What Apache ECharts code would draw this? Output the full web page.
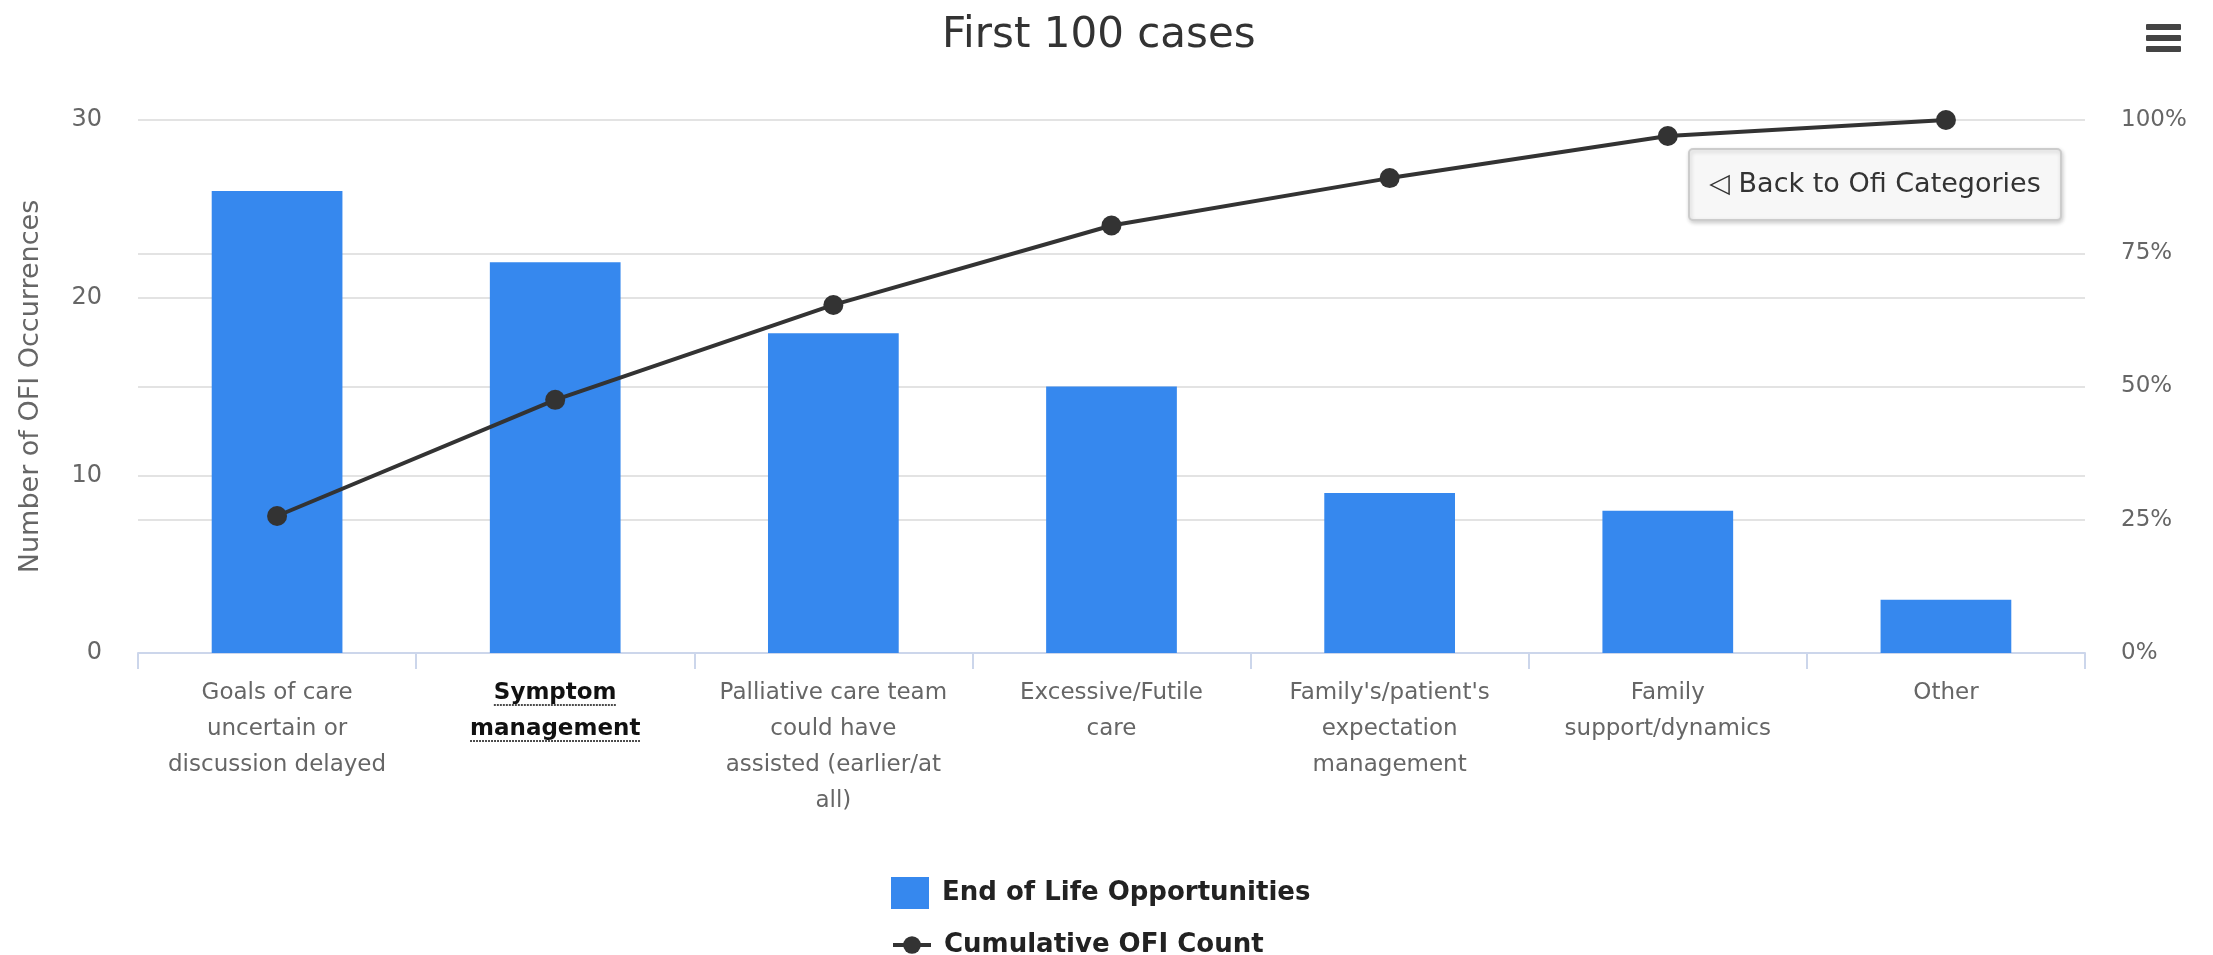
<!DOCTYPE html>
<html>
<head>
<meta charset="utf-8">
<script src="https://cdn.jsdelivr.net/npm/echarts@6/dist/echarts.min.js"></script>
<style>
  html, body { margin: 0; padding: 0; background: #ffffff; }
  #chart { width: 2213px; height: 955px; }
</style>
</head>
<body>
<div id="chart"></div>
<script>
// Opportunity-for-improvement categories (wrapped as they appear under the axis)
const categories = [
  'Goals of care\nuncertain or\ndiscussion delayed',
  'Symptom\nmanagement',
  'Palliative care team\ncould have\nassisted (earlier/at\nall)',
  'Excessive/Futile\ncare',
  "Family's/patient's\nexpectation\nmanagement",
  'Family\nsupport/dynamics',
  'Other'
];
// Number of OFI occurrences per category
const occurrences = [26, 22, 18, 15, 9, 8, 3];
// Cumulative share of all occurrences, in percent
const cumulativePct = [25.7, 47.5, 65.3, 80.2, 89.1, 97.0, 100];
// Category that can be drilled into (bold, underlined label)
const drillCategory = 'Symptom\nmanagement';

const seriesNames = ['End of Life Opportunities', 'Cumulative OFI Count'];
const titleText = 'First 100 cases';
const FONT = 'DejaVu Sans';

const chart = echarts.init(document.getElementById('chart'), null, { renderer: 'canvas' });

const measure = document.createElement('canvas').getContext('2d');
function textWidth(str, font) {
  measure.font = font;
  return measure.measureText(str).width;
}

const TITLE_SIZE = 42;
const titleCenterX = 1094;
const titleLeft = Math.round(titleCenterX - textWidth(titleText, TITLE_SIZE + 'px "DejaVu Sans"') / 2);

const LABEL_SIZE = 23;
const LABEL_LH = 36;
const LABEL_MARGIN = 22;

const option = {
  backgroundColor: '#ffffff',
  animation: false,
  textStyle: { fontFamily: FONT },
  title: {
    text: titleText,
    left: titleLeft,
    top: 10,
    textStyle: { fontFamily: FONT, fontSize: TITLE_SIZE, fontWeight: 'normal', color: '#333333' }
  },
  grid: { left: 138, right: 128, top: 120, bottom: 302, containLabel: false },
  legend: [
    {
      data: [seriesNames[0]],
      orient: 'vertical',
      left: 886,
      top: 872,
      itemWidth: 38,
      itemHeight: 32,
      icon: 'rect',
      textStyle: { fontFamily: FONT, fontSize: 26, fontWeight: 'bold', color: '#222222', padding: [0, 0, 0, 8] }
    },
    {
      data: [seriesNames[1]],
      orient: 'vertical',
      left: 886,
      top: 927,
      itemWidth: 38,
      itemHeight: 22,
      lineStyle: { width: 4 },
      textStyle: { fontFamily: FONT, fontSize: 26, fontWeight: 'bold', color: '#222222', padding: [0, 0, 0, 8] }
    }
  ],
  xAxis: {
    type: 'category',
    data: categories,
    boundaryGap: true,
    axisLine: { show: true, lineStyle: { color: '#ccd6eb', width: 2 } },
    axisTick: { show: true, alignWithLabel: false, length: 16, lineStyle: { color: '#ccd6eb', width: 2 } },
    splitLine: { show: false },
    axisLabel: {
      interval: 0,
      margin: LABEL_MARGIN,
      fontFamily: FONT,
      fontSize: LABEL_SIZE,
      lineHeight: LABEL_LH,
      color: '#666666',
      align: 'center',
      formatter: function (value) {
        if (value === drillCategory) {
          return value.split('\n').map(function (s) { return '{drill|' + s + '}'; }).join('\n');
        }
        return value;
      },
      rich: {
        drill: { fontFamily: FONT, fontSize: LABEL_SIZE, fontWeight: 'bold', color: '#111111', lineHeight: LABEL_LH }
      }
    }
  },
  yAxis: [
    {
      type: 'value',
      min: 0,
      max: 30,
      interval: 10,
      name: 'Number of OFI Occurrences',
      nameLocation: 'middle',
      nameRotate: 90,
      nameGap: 94,
      nameTextStyle: { fontFamily: FONT, fontSize: 27, color: '#666666' },
      axisLine: { show: false },
      axisTick: { show: false },
      axisLabel: { margin: 36, fontFamily: FONT, fontSize: 24, color: '#666666' },
      splitLine: { show: true, lineStyle: { color: '#e3e3e3', width: 2 } }
    },
    {
      type: 'value',
      min: 0,
      max: 100,
      interval: 25,
      position: 'right',
      axisLine: { show: false },
      axisTick: { show: false },
      axisLabel: { margin: 36, fontFamily: FONT, fontSize: 23, color: '#666666', formatter: '{value}%' },
      splitLine: { show: true, lineStyle: { color: '#e3e3e3', width: 2 } }
    }
  ],
  series: [
    {
      name: seriesNames[0],
      type: 'bar',
      yAxisIndex: 0,
      data: occurrences,
      barWidth: '47%',
      itemStyle: { color: '#3688ee' },
      z: 2
    },
    {
      name: seriesNames[1],
      type: 'line',
      yAxisIndex: 1,
      data: cumulativePct,
      symbol: 'circle',
      symbolSize: 20,
      lineStyle: { color: '#333333', width: 4 },
      itemStyle: { color: '#333333' },
      z: 5
    }
  ],
  graphic: [
    // Drill-up button
    {
      type: 'group',
      left: 1688,
      top: 148,
      z: 100,
      children: [
        {
          type: 'rect',
          shape: { x: 0, y: 0, width: 372, height: 71, r: 4 },
          style: {
            fill: '#f7f7f7', stroke: '#cccccc', lineWidth: 2,
            shadowBlur: 4, shadowOffsetX: 1, shadowOffsetY: 2, shadowColor: 'rgba(0,0,0,0.18)'
          }
        },
        {
          type: 'text',
          x: 186,
          y: 36,
          style: {
            text: '\u25C1 Back to Ofi Categories',
            fill: '#333333',
            font: '27px "DejaVu Sans"',
            align: 'center',
            verticalAlign: 'middle'
          }
        }
      ]
    },
    // Context menu (hamburger) icon
    {
      type: 'group',
      left: 2146,
      top: 24,
      z: 100,
      children: [
        { type: 'rect', shape: { x: 0, y: 0, width: 35, height: 6, r: 1 }, style: { fill: '#444444' } },
        { type: 'rect', shape: { x: 0, y: 11, width: 35, height: 6, r: 1 }, style: { fill: '#444444' } },
        { type: 'rect', shape: { x: 0, y: 22, width: 35, height: 6, r: 1 }, style: { fill: '#444444' } }
      ]
    }
  ]
};

chart.setOption(option);

// Underline the drillable category label, positioned from the axis scale
(function underlineDrillLabel() {
  const idx = categories.indexOf(drillCategory);
  const cx = chart.convertToPixel({ xAxisIndex: 0 }, idx);
  const axisY = chart.convertToPixel({ yAxisIndex: 0 }, 0);
  const lines = drillCategory.split('\n');
  const top = axisY + LABEL_MARGIN;
  const marks = lines.map(function (s, i) {
    const w = textWidth(s, 'bold ' + LABEL_SIZE + 'px "DejaVu Sans"');
    const y = top + i * LABEL_LH + LABEL_LH / 2 + 12;
    return {
      type: 'line',
      z: 100,
      shape: { x1: cx - w / 2, y1: y, x2: cx + w / 2, y2: y },
      style: { stroke: '#111111', lineWidth: 1.5, lineDash: [2, 1] }
    };
  });
  chart.setOption({ graphic: option.graphic.concat(marks) });
})();
</script>
</body>
</html>
